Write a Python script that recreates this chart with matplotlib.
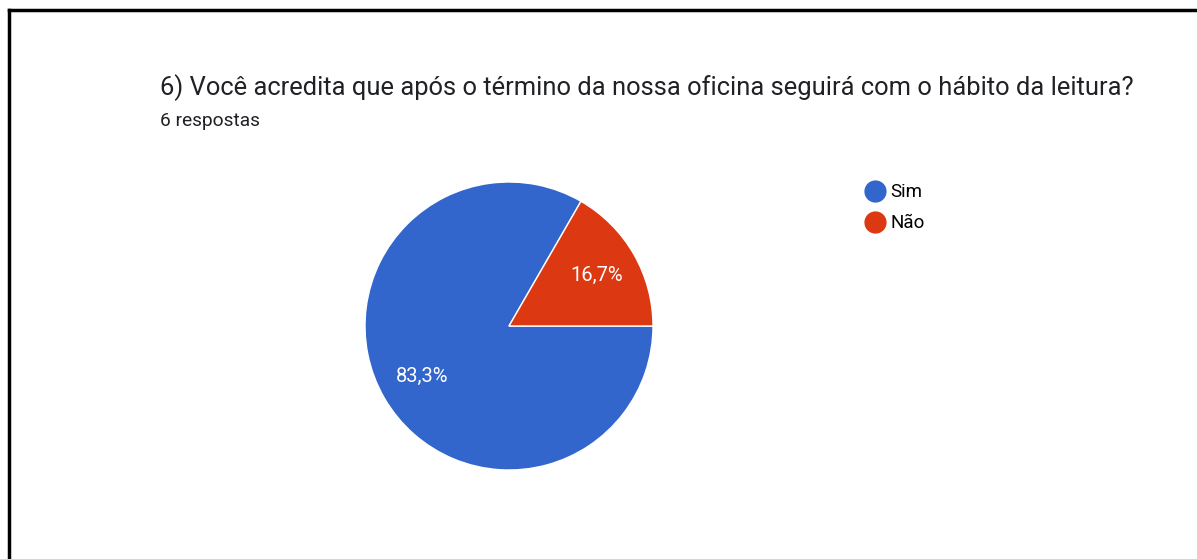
import matplotlib
matplotlib.use("Agg")
import matplotlib.pyplot as plt
from matplotlib.lines import Line2D

title = "6) Você acredita que após o término da nossa oficina seguirá com o hábito da leitura?"
subtitle = "6 respostas"
categories = ["Sim", "Não"]
values = [5, 1]
colors = ["#3366cc", "#dc3912"]

W, H = 1197, 559
plt.rcParams['font.family'] = ['Roboto', 'DejaVu Sans']
fig = plt.figure(figsize=(W / 100, H / 100), dpi=100)
fig.patch.set_facecolor("white")

def fx(x): return x / W
def fy(y): return 1 - y / H

# border lines (left and top)
fig.add_artist(Line2D([fx(9), fx(9)], [fy(10), 0], color="black", lw=2.5, transform=fig.transFigure))
fig.add_artist(Line2D([fx(9), 1], [fy(10), fy(10)], color="black", lw=2.5, transform=fig.transFigure))

fig.text(fx(160), fy(88), title, fontsize=18.4, color="#202124", va="center", ha="left")
fig.text(fx(160), fy(121), subtitle, fontsize=13.8, color="#202124", va="center", ha="left")

cx, cy, r = 509, 326, 144
ax = fig.add_axes([fx(cx - r), fy(cy + r), 2 * r / W, 2 * r / H])
wedges, texts, autotexts = ax.pie(
    values, colors=colors, startangle=0, counterclock=False,
    autopct=lambda p: f"{p:.1f}%".replace(".", ","), pctdistance=0.7,
    wedgeprops=dict(edgecolor="white", linewidth=1),
    textprops=dict(color="white", fontsize=14.5), radius=1)
ax.set_xlim(-1, 1)
ax.set_ylim(-1, 1)
ax.set_aspect("equal")
ax.axis("off")

handles = [Line2D([], [], marker="o", linestyle="", markersize=15, markerfacecolor=c, markeredgecolor=c) for c in colors]
fig.legend(handles, categories, loc="upper left", bbox_to_anchor=(fx(854), fy(174)),
           frameon=False, fontsize=13.5, handletextpad=0.25, labelspacing=0.68, handlelength=1.2, borderpad=0)

fig.savefig("out.png", dpi=100, facecolor="white")
